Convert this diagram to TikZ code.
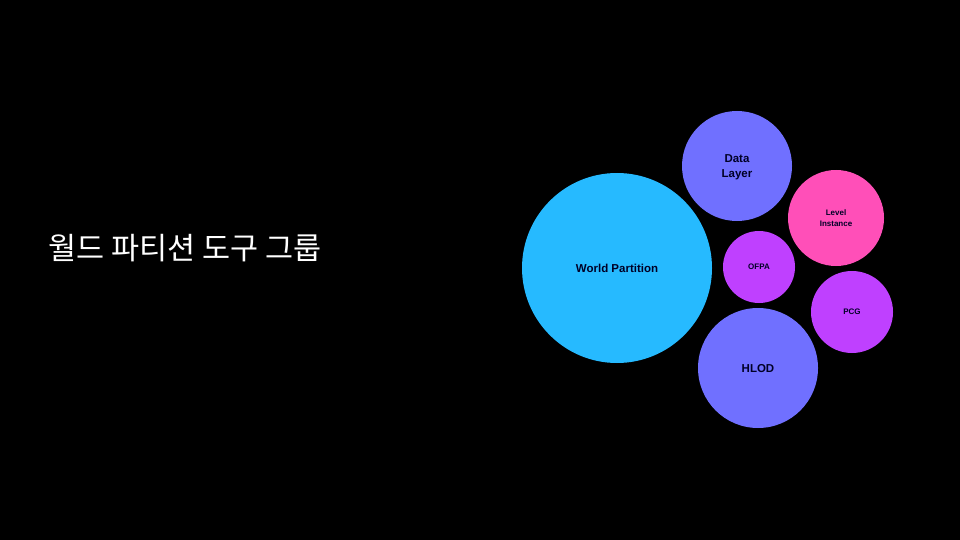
\documentclass[tikz,border=0pt]{standalone}
\usepackage{fontspec}
\setmainfont{Liberation Sans}
\newfontfamily\krfont{Noto Sans CJK KR}
\definecolor{wpblue}{HTML}{26BAFF}
\definecolor{dlviolet}{HTML}{7070FF}
\definecolor{lipink}{HTML}{FF4FB8}
\definecolor{ofpurple}{HTML}{BF40FF}
\tikzset{
	bubble/.style={circle, inner sep=0pt, align=center, font=\bfseries, text=black!85!blue, text depth=0pt},
}
\begin{document}
\begin{tikzpicture}[x=1pt, y=-1pt, line join=round, line cap=round]
		\fill[black] (0,0) rectangle (960,540);
		\useasboundingbox (0,0) rectangle (960,540);
		\node[anchor=west, text=white, font=\krfont\fontsize{30.5}{34}\selectfont] (title) at (45,248) {월드 파티션 도구 그룹};
		% bubbles
		\node[bubble, fill=wpblue, minimum size=190pt, font=\bfseries\fontsize{11.5}{13}\selectfont] (wp) at (617,268) {World Partition};
		\node[bubble, fill=dlviolet, minimum size=110pt, font=\bfseries\fontsize{11.5}{15}\selectfont] (dl) at (737,166) {Data\\Layer};
		\node[bubble, fill=lipink, minimum size=96pt, font=\bfseries\fontsize{8}{11}\selectfont] (li) at (836,218) {Level\\Instance};
		\node[bubble, fill=ofpurple, minimum size=72pt, font=\bfseries\fontsize{8}{10}\selectfont] (ofpa) at (759,267) {OFPA};
		\node[bubble, fill=ofpurple, minimum size=82pt, font=\bfseries\fontsize{8}{10}\selectfont] (pcg) at (852,312) {PCG};
		\node[bubble, fill=dlviolet, minimum size=120pt, font=\bfseries\fontsize{11.5}{13}\selectfont] (hlod) at (758,368) {HLOD};
\end{tikzpicture}
\end{document}
